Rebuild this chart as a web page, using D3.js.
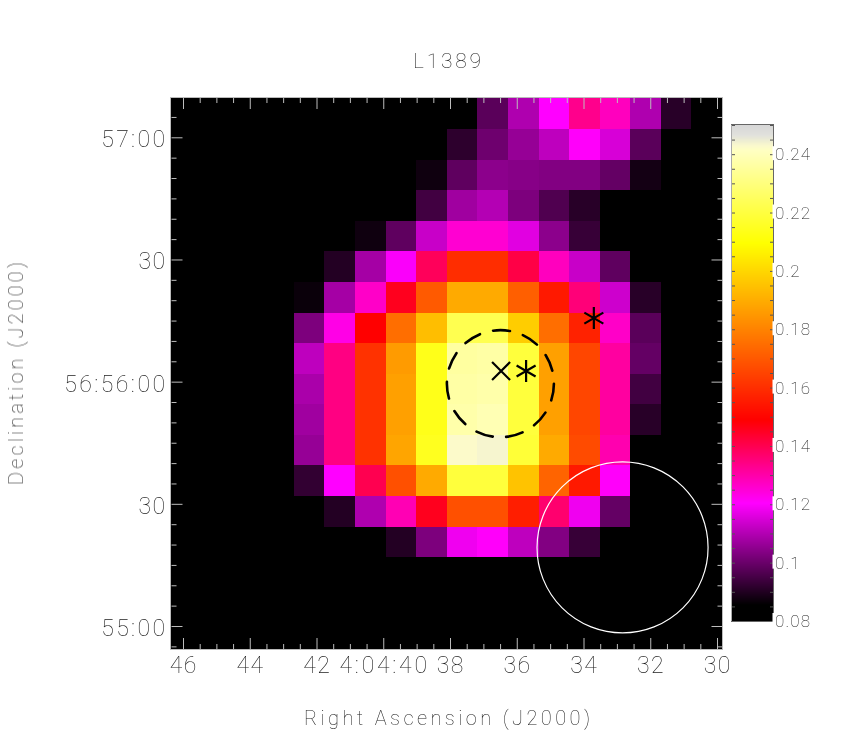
<!DOCTYPE html>
<html><head><meta charset="utf-8">
<script src="https://cdn.jsdelivr.net/npm/d3@7"></script>
<style>
html,body{margin:0;padding:0;background:#fff}
svg{display:block}
text{font-family:Roboto,sans-serif;font-weight:100;fill:#1a1a1a;filter:url(#gray)}
</style></head><body>
<svg id="c" width="864" height="747">
<defs><filter id="gray" x="-20%" y="-20%" width="140%" height="140%" color-interpolation-filters="sRGB"><feOffset dx="0" dy="0"/></filter></defs>
</svg>
<script>
const title = "L1389";
const xTitle = "Right Ascension (J2000)";
const yTitle = "Declination (J2000)";
// RA seconds (4:04:xx) and Dec offset in arcsec from 56:55:00
const raMajor = [46,44,42,40,38,36,34,32,30];
const raLabels = ["46","44","42","4:04:40","38","36","34","32","30"];
const decMajor = [0,30,60,90,120];
const decLabels = ["55:00","30","56:56:00","30","57:00"];
const cbarMajor = [0.08,0.10,0.12,0.14,0.16,0.18,0.20,0.22,0.24];
const cbarLabels = ["0.08","0.1","0.12","0.14","0.16","0.18","0.2","0.22","0.24"];
const cmapStops = [0.08,0.0855,0.1204,0.1489,0.2095,0.2414,0.243,0.2445,0.2465,0.25];
const cmapColors = ["#000","#000","#f0f","#f00","#ff0","#ffffc3","#faf8cd","#eeeed2","#e1e1dc","#d7d7d7"];
const z = 0.08;
const grid = [
[z,z,z,z,z,z,z,z,z,z,.0978,.1095,.1204,.1333,.1277,.1095,.091,z],
[z,z,z,z,z,z,z,z,z,.0917,.1006,.106,.1115,.1210,.1149,.0978,z,z],
[z,z,z,z,z,z,z,z,.0876,.0985,.1047,.104,.1033,.1033,.0992,.0882,z,z],
[z,z,z,z,z,z,z,z,.0944,.1074,.1101,.1026,.0965,.091,z,z,z,z],
[z,z,z,z,z,z,.0876,.0985,.1129,.1254,.1254,.1163,.1047,.093,z,z,z,z],
[z,z,z,z,z,.0903,.1081,.1197,.1388,.1596,.1596,.1411,.1277,.1129,.0985,z,z,z],
[z,z,z,z,.0869,.1081,.1265,.1455,.1703,.1893,.1893,.1714,.1548,.1355,.1136,.091,z,z],
[z,z,z,z,.1026,.1232,.1489,.175,.194,.2226,.2226,.1976,.175,.157,.1265,.0978,z,z],
[z,z,z,z,.1115,.1344,.1608,.1857,.2136,.2357,.2365,.2193,.187,.1655,.131,.0992,z,z],
[z,z,z,z,.1088,.1344,.1608,.187,.2136,.2365,.2373,.2193,.187,.1655,.131,.0944,z,z],
[z,z,z,z,.1074,.1344,.1608,.187,.2136,.2373,.239,.2193,.187,.1655,.131,.091,z,z],
[z,z,z,z,.106,.1344,.1608,.188,.2145,.2425,.2435,.2185,.1893,.1668,.1293,z,z,z],
[z,z,z,z,.0923,.1204,.14,.1680,.1893,.2193,.2193,.1953,.1726,.1548,.1210,z,z,z],
[z,z,z,z,z,.0903,.1095,.1288,.1455,.168,.168,.156,.1366,.1183,.0992,z,z,z],
[z,z,z,z,z,z,z,.0903,.1026,.1183,.1210,.1115,.1033,.093,z,z,z,z],
[z,z,z,z,z,z,z,z,z,z,z,z,z,z,z,z,z,z],
[z,z,z,z,z,z,z,z,z,z,z,z,z,z,z,z,z,z],
[z,z,z,z,z,z,z,z,z,z,z,z,z,z,z,z,z,z]
];
// markers in sky units
const crosses = [{ra:36.47,dec:62.6}];
const stars = [{ra:35.72,dec:62.6},{ra:33.69,dec:75.6}];
const dashedCircle = {ra:36.49,dec:59.5,r:13.14};
const beamCircle = {ra:32.83,dec:19.3,r:21.0};

const svg = d3.select("#c");
const L=171,R=722,T=98,B=649;
const x = d3.scaleLinear().domain([46,30]).range([183,717]);
const y = d3.scaleLinear().domain([0,120]).range([626,137.3]);
const col = d3.scaleLinear().domain([0,18]).range([L+0.5,R]);
const row = d3.scaleLinear().domain([0,18]).range([T+0.4,B]);
const cmap = d3.scaleLinear().domain(cmapStops).range(cmapColors).clamp(true);
const rScale = v => Math.abs(y(v)-y(0));
const rnd = Math.round;

svg.append("rect").attr("x",L).attr("y",T).attr("width",R-L).attr("height",B-T).attr("fill","#000");
svg.append("g").attr("shape-rendering","crispEdges").selectAll("g").data(grid).join("g")
  .each(function(rowVals,i){
    d3.select(this).selectAll("rect").data(rowVals).join("rect")
      .attr("x",(d,j)=>rnd(col(j))).attr("width",(d,j)=>rnd(col(j+1))-rnd(col(j)))
      .attr("y",rnd(row(i))).attr("height",rnd(row(i+1))-rnd(row(i)))
      .attr("fill",d=>cmap(d));
  });

// white beam circle
svg.append("circle").attr("cx",x(beamCircle.ra)).attr("cy",y(beamCircle.dec)).attr("r",rScale(beamCircle.r))
  .attr("fill","none").attr("stroke","#fff").attr("stroke-width",1.2);
// dashed circle
svg.append("circle").attr("cx",x(dashedCircle.ra)).attr("cy",y(dashedCircle.dec)).attr("r",rScale(dashedCircle.r))
  .attr("fill","none").attr("stroke","#000").attr("stroke-width",2.6).attr("stroke-linecap","round").attr("stroke-dasharray","17 13.55");
// markers
const mk = svg.append("g").attr("stroke","#000").attr("stroke-width",2.2).attr("fill","none");
mk.selectAll("path.x").data(crosses).join("path").attr("class","x")
  .attr("transform",d=>`translate(${x(d.ra)},${y(d.dec)})`)
  .attr("d","M-9,-9L9,9M-9,9L9,-9");
mk.selectAll("path.s").data(stars).join("path").attr("class","s")
  .attr("transform",d=>`translate(${x(d.ra)},${y(d.dec)})`)
  .attr("d","M0,-11V11M-9.5,-5.5L9.5,5.5M-9.5,5.5L9.5,-5.5");

// axes
const raMinor = d3.range(46,29.9,-0.5).filter(v=>!raMajor.includes(v));
const decMinor = d3.range(-5,126,5).filter(v=>!decMajor.includes(v));
const tickCol = "#bdbdbd";
function styleAxis(g){g.selectAll(".domain").remove();g.selectAll("line").attr("stroke",tickCol).attr("stroke-width",1);g.selectAll("text").remove();}
[[d3.axisBottom,B],[d3.axisTop,T]].forEach(([ax,py])=>{
  svg.append("g").attr("transform",`translate(0,${py})`).call(ax(x).tickValues(raMajor).tickSize(-11)).call(styleAxis);
  svg.append("g").attr("transform",`translate(0,${py})`).call(ax(x).tickValues(raMinor).tickSize(-5)).call(styleAxis);
});
[[d3.axisLeft,L],[d3.axisRight,R]].forEach(([ax,px])=>{
  svg.append("g").attr("transform",`translate(${px+0.5},0)`).call(ax(y).tickValues(decMajor).tickSize(-11)).call(styleAxis);
  svg.append("g").attr("transform",`translate(${px+0.5},0)`).call(ax(y).tickValues(decMinor).tickSize(-5)).call(styleAxis);
});
// frame
svg.append("rect").attr("x",L-0.5).attr("y",T-0.5).attr("width",R-L+1).attr("height",B-T+1)
  .attr("fill","none").attr("stroke","#bbb");

// tick labels
const labelWidth = s => { const colons=(s.match(/:/g)||[]).length; return 13.3*(s.length-colons)+10.5*colons; };
svg.append("g").selectAll("text").data(raMajor).join("text")
  .attr("x",d=>x(d)).attr("y",673).attr("text-anchor","middle").attr("font-size",23)
  .attr("textLength",(d,i)=>labelWidth(raLabels[i])).attr("lengthAdjust","spacing")
  .text((d,i)=>raLabels[i]);
svg.append("g").selectAll("text").data(decMajor).join("text")
  .attr("x",165).attr("y",d=>y(d)+10).attr("text-anchor","end").attr("font-size",23)
  .attr("textLength",(d,i)=>labelWidth(decLabels[i])).attr("lengthAdjust","spacing")
  .text((d,i)=>decLabels[i]);

// titles
svg.append("text").attr("x",447).attr("y",68).attr("text-anchor","middle").attr("font-size",21)
  .attr("textLength",68).text(title);
svg.append("text").attr("x",447).attr("y",725).attr("text-anchor","middle").attr("font-size",20)
  .attr("textLength",286).text(xTitle);
svg.append("text").attr("transform","translate(23,373.5) rotate(-90)").attr("text-anchor","middle").attr("font-size",20)
  .attr("textLength",223).text(yTitle);

// colour bar
const cb = d3.scaleLinear().domain([0.08,0.25]).range([621,125]);
const cbX0=732, cbX1=773;
svg.append("g").attr("shape-rendering","crispEdges").selectAll("rect").data(d3.range(125,621)).join("rect")
  .attr("x",cbX0).attr("y",d=>d).attr("width",cbX1-cbX0).attr("height",1)
  .attr("fill",d=>cmap(cb.invert(d+0.5)));
svg.append("rect").attr("x",cbX0-0.5).attr("y",124.5).attr("width",cbX1-cbX0+1).attr("height",497)
  .attr("fill","none").attr("stroke","#666");
svg.append("line").attr("x1",cbX0-0.5).attr("x2",cbX0-0.5).attr("y1",125).attr("y2",621).attr("stroke","#aaa");
const cbTicks = d3.range(0.085,0.2501,0.005);
function styleCb(g){g.selectAll(".domain").remove();g.selectAll("line").attr("stroke","#555");g.selectAll("text").remove();}
svg.append("g").attr("transform",`translate(${cbX0},0)`).call(d3.axisLeft(cb).tickValues(cbTicks).tickSize(-3)).call(styleCb);
svg.append("g").attr("transform",`translate(${cbX1},0)`).call(d3.axisRight(cb).tickValues(cbTicks).tickSize(-3)).call(styleCb);
svg.append("g").selectAll("rect").data(cbarMajor).join("rect")
  .attr("x",cbX1-0.5).attr("width",2).attr("y",d=>cb(d)-8).attr("height",14).attr("fill","#fff");
svg.append("g").selectAll("text").data(cbarMajor).join("text")
  .attr("x",775).attr("y",d=>cb(d)+6).attr("font-size",17)
  .attr("letter-spacing",1.2)
  .text((d,i)=>cbarLabels[i]);
</script>
</body></html>
